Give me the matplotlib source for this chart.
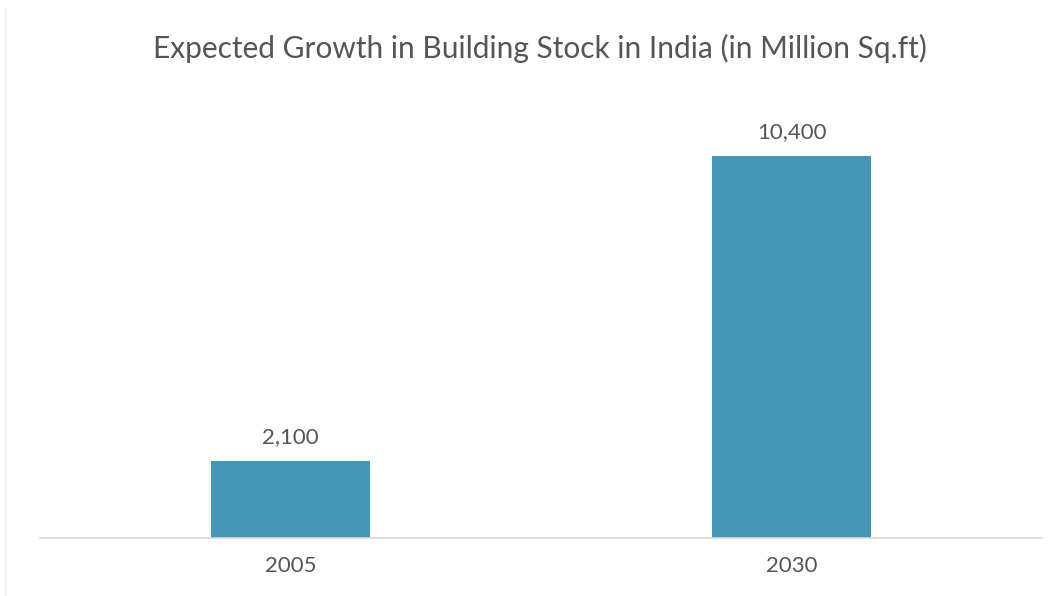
import matplotlib
matplotlib.use('Agg')
import matplotlib.pyplot as plt
from matplotlib import rcParams

rcParams['font.family'] = ['Lato', 'DejaVu Sans']

# данные
years = ['2005', '2030']
stock = [2100, 10400]
value_labels = ['2,100', '10,400']

bar_color = '#4396b6'
text_color = '#555555'

fig = plt.figure(figsize=(10.57, 5.96), dpi=100)
ax = fig.add_axes([0.0378, 0.0973, 0.948, 0.7397])

x = range(len(years))
bars = ax.bar(x, stock, width=0.316, color=bar_color, zorder=2)

for b, lab in zip(bars, value_labels):
    ax.text(b.get_x() + b.get_width() / 2, b.get_height() + 380, lab,
            ha='center', va='bottom', fontsize=16, color=text_color)

ax.set_xlim(-0.5, 1.5)
ax.set_ylim(0, 12000)
ax.set_xticks(list(x))
ax.set_xticklabels(years, fontsize=16, color=text_color)
ax.tick_params(axis='x', length=0, pad=13)
ax.set_yticks([])

for s in ['top', 'right', 'left']:
    ax.spines[s].set_visible(False)
ax.spines['bottom'].set_color('#d9d9d9')
ax.spines['bottom'].set_linewidth(1.2)

fig.text(0.511, 0.918, 'Expected Growth in Building Stock in India (in Million Sq.ft)',
         ha='center', va='center', fontsize=21.5, color=text_color)

# тонкая рамка слева, как на исходнике
fig.add_artist(plt.Line2D([0.005, 0.005], [0.0, 0.985], color='#ececec', linewidth=1))

fig.savefig('out.png', dpi=100)
